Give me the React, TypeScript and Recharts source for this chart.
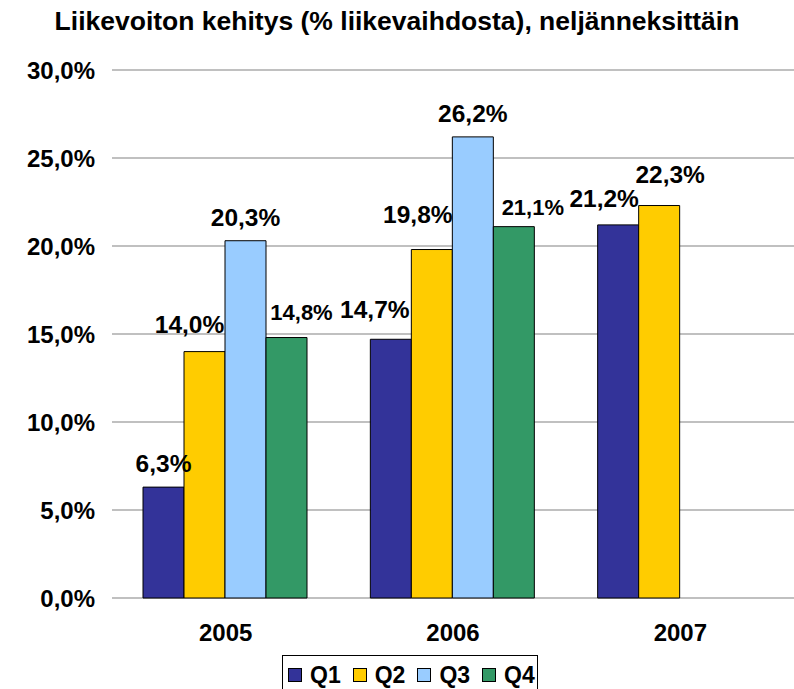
import React from 'react';
import { BarChart, Bar, XAxis, YAxis, CartesianGrid, Legend, LabelList } from 'recharts';

const years = ['2005', '2006', '2007'];
const q1 = [6.3, 14.7, 21.2];
const q2 = [14.0, 19.8, 22.3];
const q3 = [20.3, 26.2, null];
const q4 = [14.8, 21.1, null];
const yTicks = [0, 5, 10, 15, 20, 25, 30];

const FONT = '"Liberation Sans", Arial, Helvetica, sans-serif';

const colors: Record<string, string> = {
  Q1: '#333399',
  Q2: '#ffcc00',
  Q3: '#99ccff',
  Q4: '#339966',
};

// small label shifts so neighbouring value labels don't sit on top of each other
const nudges: Record<string, [number, number][]> = {
  Q1: [[0, 0], [-16, -6], [-14, -3]],
  Q2: [[-15, -4], [-14, -12], [11, -8]],
  Q3: [[0, 0], [0, 0], [0, 0]],
  Q4: [[15, -3], [19, 3], [0, 0]],
};

const data = years.map((year, i) => ({
  year,
  Q1: q1[i],
  Q2: q2[i],
  Q3: q3[i],
  Q4: q4[i],
}));

const pct = (v: number) => v.toFixed(1).replace('.', ',') + '%';

const makeLabel = (key: string) => (props: any) => {
  const { x, y, width, value, index } = props;
  if (value == null) return null;
  const [dx, dy] = nudges[key][index] || [0, 0];
  return (
    <text
      x={Number(x) + Number(width) / 2 + dx}
      y={Number(y) - 15 + dy}
      textAnchor="middle"
      fontFamily={FONT}
      fontWeight="bold"
      fontSize={key === 'Q4' ? 22 : 24.5}
      fill="#000"
    >
      {pct(value)}
    </text>
  );
};

const renderLegend = () => (
  <div
    style={{
      border: '1px solid #000',
      height: 40,
      boxSizing: 'border-box',
      display: 'flex',
      alignItems: 'center',
      paddingLeft: 5,
      background: '#fff',
      fontFamily: FONT,
      fontWeight: 'bold',
      fontSize: 23,
    }}
  >
    {Object.keys(colors).map((k) => (
      <span key={k} style={{ display: 'flex', alignItems: 'center', marginRight: 12 }}>
        <span
          style={{
            width: 14,
            height: 14,
            boxSizing: 'border-box',
            border: '1px solid #000',
            background: colors[k],
            marginRight: 8,
          }}
        />
        {k}
      </span>
    ))}
  </div>
);

const App = () => {
  return (
    <div style={{ position: 'absolute', left: 0, top: 0, width: 794, height: 689, background: '#fff' }}>
      <div
        style={{
          position: 'absolute',
          top: 8,
          left: 0,
          width: 794,
          textAlign: 'center',
          fontFamily: FONT,
          fontWeight: 'bold',
          fontSize: 26.5,
          lineHeight: '27px',
          zIndex: 2,
        }}
      >
        Liikevoiton kehitys (% liikevaihdosta), neljänneksittäin
      </div>
      <BarChart
        width={794}
        height={689}
        data={data}
        margin={{ top: 70, right: 0, bottom: 0, left: 0 }}
        barCategoryGap={31}
        barGap={0}
      >
        <CartesianGrid vertical={false} stroke="#c0c0c0" strokeWidth={2} />
        <XAxis
          dataKey="year"
          height={91}
          axisLine={false}
          tickLine={false}
          tickSize={6}
          tickMargin={20}
          tick={{ fill: '#000', fontSize: 24, fontWeight: 'bold', fontFamily: FONT }}
        />
        <YAxis
          width={112}
          domain={[0, 30]}
          ticks={yTicks}
          interval={0}
          axisLine={false}
          tickLine={false}
          tickSize={6}
          tickMargin={11}
          tickFormatter={pct}
          tick={{ fill: '#000', fontSize: 24, fontWeight: 'bold', fontFamily: FONT }}
        />
        <Legend
          verticalAlign="middle"
          align="center"
          layout="horizontal"
          wrapperStyle={{ left: 282, top: 655, width: 256 }}
          content={renderLegend}
        />
        {Object.keys(colors).map((k) => (
          <Bar key={k} dataKey={k} fill={colors[k]} stroke="#000" strokeWidth={1} isAnimationActive={false}>
            <LabelList dataKey={k} content={makeLabel(k)} />
          </Bar>
        ))}
      </BarChart>
    </div>
  );
};

export default App;
